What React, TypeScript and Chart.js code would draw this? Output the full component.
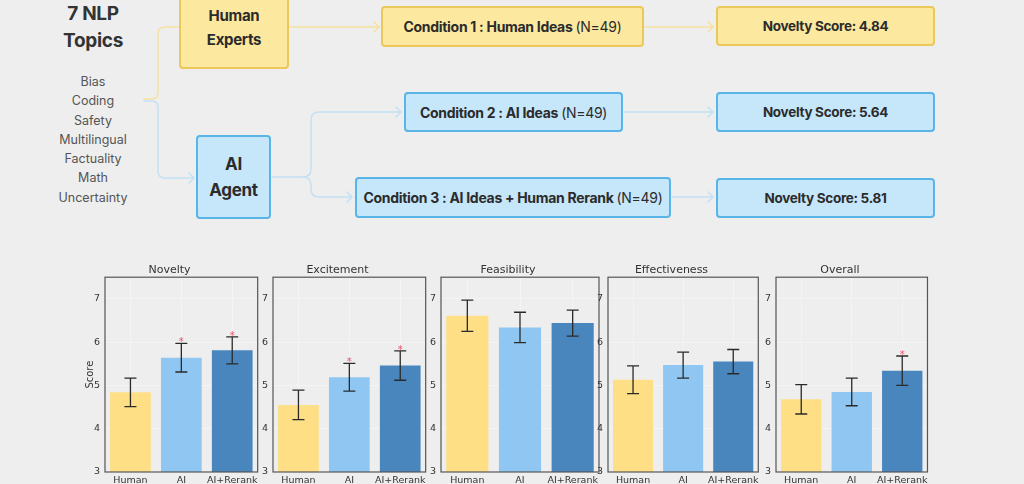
import React, { useEffect, useRef } from "react";
import { Chart, registerables } from "chart.js";

Chart.register(...registerables);

// ---------- data ----------
const categories = ["Human", "AI", "AI+Rerank"];
const metricTitles = ["Novelty", "Excitement", "Feasibility", "Effectiveness", "Overall"];

const noveltyMeans = [4.84, 5.64, 5.81];
const noveltyErrors = [0.33, 0.33, 0.31];
const noveltyStars = [false, true, true];

const excitementMeans = [4.55, 5.19, 5.46];
const excitementErrors = [0.34, 0.32, 0.34];
const excitementStars = [false, true, true];

const feasibilityMeans = [6.61, 6.34, 6.44];
const feasibilityErrors = [0.36, 0.35, 0.3];
const feasibilityStars = [false, false, false];

const effectivenessMeans = [5.13, 5.47, 5.55];
const effectivenessErrors = [0.32, 0.3, 0.28];
const effectivenessStars = [false, false, false];

const overallMeans = [4.68, 4.85, 5.34];
const overallErrors = [0.34, 0.32, 0.34];
const overallStars = [false, false, true];

const yTicks = [3, 4, 5, 6, 7];

const topics = ["Bias", "Coding", "Safety", "Multilingual", "Factuality", "Math", "Uncertainty"];
const conditionNames = ["Condition 1 : Human Ideas", "Condition 2 : AI Ideas", "Condition 3 : AI Ideas + Human Rerank"];
const conditionCounts = ["(N=49)", "(N=49)", "(N=49)"];
const noveltyScoreLabels = ["Novelty Score: 4.84", "Novelty Score: 5.64", "Novelty Score: 5.81"];

const meansByMetric = [noveltyMeans, excitementMeans, feasibilityMeans, effectivenessMeans, overallMeans];
const errorsByMetric = [noveltyErrors, excitementErrors, feasibilityErrors, effectivenessErrors, overallErrors];
const starsByMetric = [noveltyStars, excitementStars, feasibilityStars, effectivenessStars, overallStars];

// ---------- layout / style ----------
const BG = "#EEEEEE";
const barColors = ["#FEDF86", "#8FC7F2", "#4A86BE"];
const panelLefts = [105, 273, 441, 608, 776];
const panelWidths = [152, 152, 157, 150, 151];
const CHART_TOP = 256;
const CHART_H = 240;
const Y_AXIS_W = 24;
const MPL_FONT = "'DejaVu Sans', sans-serif";

const YELLOW_FILL = "#FDE89F";
const YELLOW_BORDER = "#EBC85A";
const BLUE_FILL = "#C6E6FA";
const BLUE_BORDER = "#59B5E8";
const YELLOW_LINE = "#F5E2A0";
const BLUE_LINE = "#C4E1F4";
const TEXT = "#2B2B2B";

function MetricPanel({ idx }: { idx: number }) {
  const ref = useRef<HTMLCanvasElement>(null);
  const width = panelWidths[idx] + Y_AXIS_W + 4;
  const left = panelLefts[idx] - Y_AXIS_W;

  useEffect(() => {
    const means = meansByMetric[idx];
    const errs = errorsByMetric[idx];
    const stars = starsByMetric[idx];

    const errorBarPlugin = {
      id: "errorBars",
      afterDatasetsDraw(chart: any) {
        const ctx = chart.ctx;
        const yScale = chart.scales.y;
        const meta = chart.getDatasetMeta(0);
        ctx.save();
        meta.data.forEach((bar: any, i: number) => {
          const x = bar.x;
          const yHi = yScale.getPixelForValue(means[i] + errs[i]);
          const yLo = yScale.getPixelForValue(means[i] - errs[i]);
          ctx.strokeStyle = "#2A2A2A";
          ctx.lineWidth = 1.3;
          ctx.beginPath();
          ctx.moveTo(x, yHi);
          ctx.lineTo(x, yLo);
          ctx.moveTo(x - 6, yHi);
          ctx.lineTo(x + 6, yHi);
          ctx.moveTo(x - 6, yLo);
          ctx.lineTo(x + 6, yLo);
          ctx.stroke();
          if (stars[i]) {
            ctx.fillStyle = "#E8506A";
            ctx.font = `10px ${MPL_FONT}`;
            ctx.textAlign = "center";
            ctx.textBaseline = "alphabetic";
            ctx.fillText("*", x, yHi + 2);
          }
        });
        ctx.restore();
      },
    };

    const framePlugin = {
      id: "frame",
      afterDraw(chart: any) {
        const { ctx, chartArea } = chart;
        ctx.save();
        ctx.strokeStyle = "#555555";
        ctx.lineWidth = 1.2;
        ctx.strokeRect(chartArea.left, chartArea.top, chartArea.right - chartArea.left, chartArea.bottom - chartArea.top);
        ctx.restore();
      },
    };

    const tickFont = { family: MPL_FONT, size: 9.5 };
    const chart = new Chart(ref.current as HTMLCanvasElement, {
      type: "bar",
      data: {
        labels: categories,
        datasets: [
          {
            data: means,
            backgroundColor: barColors,
            borderWidth: 0,
            barPercentage: 1,
            categoryPercentage: 0.8,
          },
        ],
      },
      options: {
        animation: false,
        responsive: false,
        maintainAspectRatio: false,
        devicePixelRatio: 1,
        layout: { padding: { top: 8, right: 3, left: 0, bottom: 0 } },
        plugins: {
          legend: { display: false },
          tooltip: { enabled: false },
          title: {
            display: true,
            text: metricTitles[idx],
            color: "#333333",
            font: { family: MPL_FONT, size: 11, weight: "normal" },
            padding: { top: 0, bottom: 0 },
          },
        },
        scales: {
          x: {
            offset: true,
            z: 1,
            grid: { display: true, offset: false, color: "rgba(255,255,255,0.35)", lineWidth: 1, drawTicks: false },
            border: { display: false },
            ticks: { font: tickFont, color: "#333333", padding: 3, maxRotation: 0, autoSkip: false },
            afterFit: (s: any) => {
              s.height = 24;
            },
          },
          y: {
            min: 3,
            max: 7.5,
            z: 1,
            afterBuildTicks: (s: any) => {
              s.ticks = yTicks.map((v) => ({ value: v }));
            },
            grid: { display: true, color: "rgba(255,255,255,0.35)", lineWidth: 1, drawTicks: false },
            border: { display: false },
            ticks: { font: tickFont, color: "#333333", padding: 5 },
            title:
              idx === 0
                ? { display: true, text: "Score", color: "#333333", font: { family: MPL_FONT, size: 10 }, padding: { top: 3, bottom: 0 } }
                : { display: false },
            afterFit: (s: any) => {
              s.width = Y_AXIS_W;
            },
          },
        },
      } as any,
      plugins: [errorBarPlugin, framePlugin],
    });
    return () => chart.destroy();
  }, [idx]);

  return (
    <canvas
      ref={ref}
      width={width}
      height={CHART_H}
      style={{ position: "absolute", left, top: CHART_TOP, width, height: CHART_H }}
    />
  );
}

function Box(props: {
  left: number;
  top: number;
  width: number;
  height: number;
  fill: string;
  border: string;
  fontSize: number;
  lineHeight?: number;
  children: React.ReactNode;
}) {
  return (
    <div
      style={{
        position: "absolute",
        left: props.left,
        top: props.top,
        width: props.width,
        height: props.height,
        boxSizing: "border-box",
        background: props.fill,
        border: `2px solid ${props.border}`,
        borderRadius: 4,
        display: "flex",
        alignItems: "center",
        justifyContent: "center",
        textAlign: "center",
        fontWeight: 700,
        fontSize: props.fontSize,
        lineHeight: props.lineHeight ? `${props.lineHeight}px` : "normal",
        color: TEXT,
        letterSpacing: -0.3,
        whiteSpace: "nowrap",
      }}
    >
      <div>{props.children}</div>
    </div>
  );
}

function chevron(x: number, y: number) {
  return `M ${x - 5} ${y - 5} L ${x} ${y} L ${x - 5} ${y + 5}`;
}

function Connectors() {
  const sw = 1.5;
  return (
    <svg width={1024} height={250} style={{ position: "absolute", left: 0, top: 0 }}>
      <g fill="none" strokeWidth={sw} strokeLinecap="round" strokeLinejoin="round">
        <path d="M 144 99 L 152 99 Q 158 99 158 92 L 158 34 Q 158 27 165 27 L 180 27" stroke={YELLOW_LINE} />
        <path d="M 144 101 L 152 101 Q 158 101 158 108 L 158 171 Q 158 178 165 178 L 194 178" stroke={BLUE_LINE} />
        <path d={chevron(194, 178)} stroke={BLUE_LINE} />
        <path d="M 290 27 L 379 27" stroke={YELLOW_LINE} />
        <path d={chevron(379, 27)} stroke={YELLOW_LINE} />
        <path d="M 272 177 L 303 177 Q 311 177 311 169 L 311 120 Q 311 112 319 112 L 401 112" stroke={BLUE_LINE} />
        <path d={chevron(401, 112)} stroke={BLUE_LINE} />
        <path d="M 303 177 Q 311 177 311 185 L 311 189 Q 311 197 319 197 L 352 197" stroke={BLUE_LINE} />
        <path d={chevron(352, 197)} stroke={BLUE_LINE} />
        <path d="M 645 27 L 713 27" stroke={YELLOW_LINE} />
        <path d={chevron(713, 27)} stroke={YELLOW_LINE} />
        <path d="M 624 112 L 713 112" stroke={BLUE_LINE} />
        <path d={chevron(713, 112)} stroke={BLUE_LINE} />
        <path d="M 672 197 L 713 197" stroke={BLUE_LINE} />
        <path d={chevron(713, 197)} stroke={BLUE_LINE} />
      </g>
    </svg>
  );
}

const condBoxes = [
  { left: 381, top: 6, width: 263, height: 41, fill: YELLOW_FILL, border: YELLOW_BORDER },
  { left: 404, top: 92, width: 219, height: 40, fill: BLUE_FILL, border: BLUE_BORDER },
  { left: 355, top: 177, width: 316, height: 41, fill: BLUE_FILL, border: BLUE_BORDER },
];
const scoreBoxes = [
  { left: 716, top: 6, width: 219, height: 40, fill: YELLOW_FILL, border: YELLOW_BORDER },
  { left: 716, top: 92, width: 219, height: 40, fill: BLUE_FILL, border: BLUE_BORDER },
  { left: 716, top: 178, width: 219, height: 40, fill: BLUE_FILL, border: BLUE_BORDER },
];

export default function App() {
  return (
    <div
      style={{
        position: "fixed",
        left: 0,
        top: 0,
        width: 1024,
        height: 484,
        overflow: "hidden",
        background: BG,
        fontFamily: "Inter, 'Noto Sans', sans-serif",
      }}
    >
      <Connectors />
      <div
        style={{
          position: "absolute",
          left: 33,
          top: 0,
          width: 120,
          textAlign: "center",
          fontWeight: 700,
          fontSize: 19,
          lineHeight: "27px",
          color: "#333333",
          letterSpacing: -0.3,
        }}
      >
        <div>7 NLP</div>
        <div>Topics</div>
      </div>
      <div
        style={{
          position: "absolute",
          left: 33,
          top: 72,
          width: 120,
          textAlign: "center",
          fontSize: 12.5,
          lineHeight: "19.3px",
          color: "#555555",
        }}
      >
        {topics.map((t) => (
          <div key={t}>{t}</div>
        ))}
      </div>
      <Box left={179} top={-14} width={110} height={83} fill={YELLOW_FILL} border={YELLOW_BORDER} fontSize={15} lineHeight={24}>
        <div>Human</div>
        <div>Experts</div>
      </Box>
      <Box left={196} top={135} width={75} height={84} fill={BLUE_FILL} border={BLUE_BORDER} fontSize={17} lineHeight={26}>
        <div>AI</div>
        <div>Agent</div>
      </Box>
      {condBoxes.map((b, i) => (
        <Box key={i} {...b} fontSize={14}>
          <span>{conditionNames[i]} </span>
          <span style={{ fontWeight: 400 }}>{conditionCounts[i]}</span>
        </Box>
      ))}
      {scoreBoxes.map((b, i) => (
        <Box key={i} {...b} fontSize={13.5}>
          {noveltyScoreLabels[i]}
        </Box>
      ))}
      {metricTitles.map((_, i) => (
        <MetricPanel key={i} idx={i} />
      ))}
    </div>
  );
}
